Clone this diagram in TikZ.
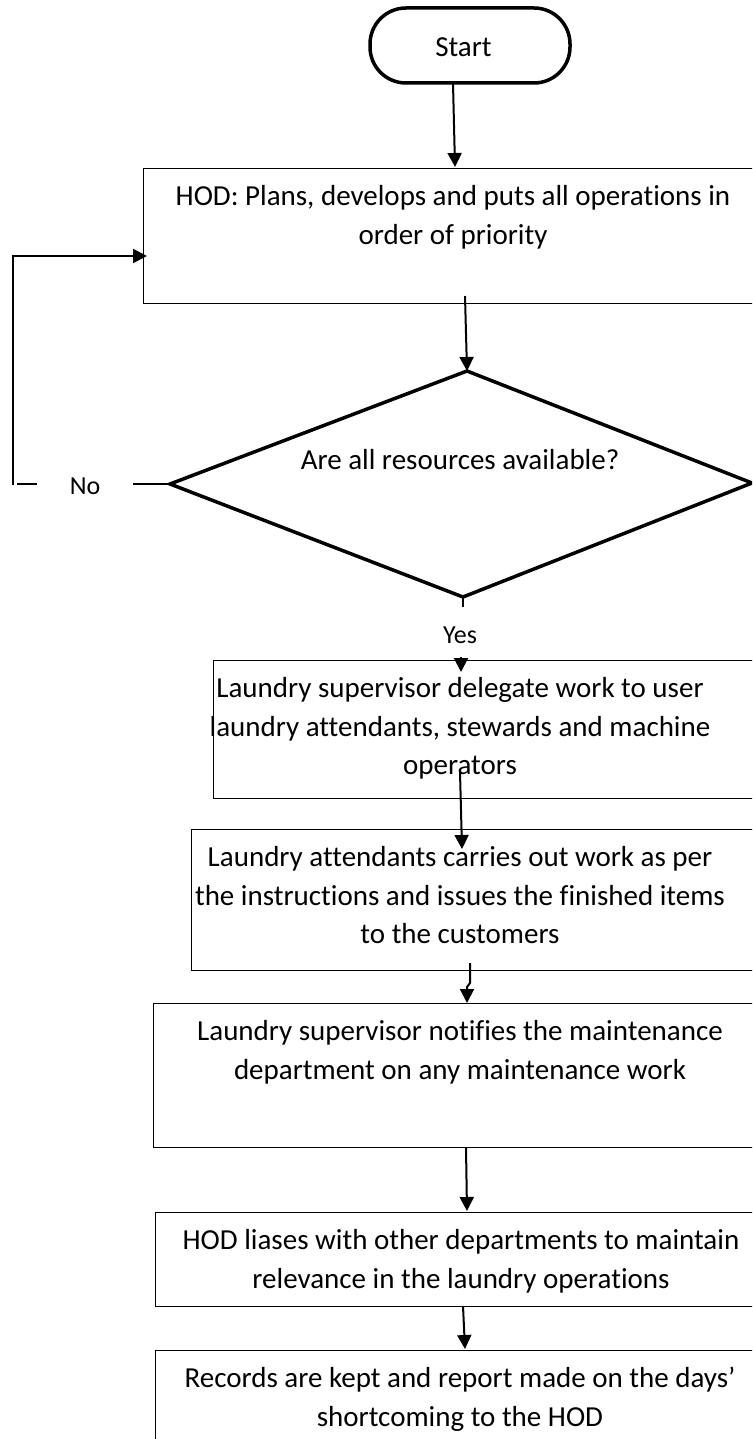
\documentclass[tikz,border=0pt]{standalone}
\usepackage{fontspec}
\setmainfont{Carlito}[Ligatures={NoCommon}]
\usetikzlibrary{arrows.meta}
\newcommand{\fstrut}{\rule{0pt}{30pt}}
\begin{document}
\begin{tikzpicture}[x=1pt,y=-1pt,
  box/.style={draw, line width=1.2pt, rectangle, anchor=north west, inner sep=0},
  term/.style={draw, line width=3.5pt, rectangle, rounded corners=36pt, inner sep=0},
  txt/.style={font=\fontsize{29}{38.5}\selectfont, align=center, anchor=north, inner sep=0},
  lbl/.style={font=\fontsize{26}{30}\selectfont, anchor=base, inner sep=0},
  arr/.style={line width=2pt, -{Triangle[length=14pt,width=14pt]}},
  ln/.style={line width=2pt},
  dia/.style={line width=3.5pt, line join=miter},
]
\useasboundingbox (0,0) rectangle (752,1439);
\clip (0,0) rectangle (752,1439);

% start terminal
\node[term, minimum width=200pt, minimum height=75pt] (start) at (470,45.5) {};
\node[font=\fontsize{29}{35}\selectfont, anchor=base, inner sep=0] (startt) at (463.5,57) {Start};

% boxes
\node[box, minimum width=630pt, minimum height=135pt] (b1) at (143,168) {};
\node[box, minimum width=560pt, minimum height=138pt] (b2) at (213,660) {};
\node[box, minimum width=580pt, minimum height=141pt] (b3) at (191,829) {};
\node[box, minimum width=620pt, minimum height=144pt] (b4) at (153,1003) {};
\node[box, minimum width=620pt, minimum height=94pt] (b5) at (155,1212) {};
\node[box, minimum width=620pt, minimum height=150pt] (b6) at (155,1350) {};

\node[txt] (t1) at (453,175.5) {\fstrut HOD: Plans, develops and puts all operations in\\order of priority};
\node[txt] (t2) at (460,667.5) {\fstrut Laundry supervisor delegate work to user\\laundry attendants, stewards and machine\\operators};
\node[txt] (t3) at (460,836.5) {\fstrut Laundry attendants carries out work as per\\the instructions and issues the finished items\\to the customers};
\node[txt] (t4) at (460,1010.5) {\fstrut Laundry supervisor notifies the maintenance\\department on any maintenance work};
\node[txt] (t5) at (461,1219.5) {\fstrut HOD liases with other departments to maintain\\relevance in the laundry operations};
\node[txt] (t6) at (460,1357.5) {\fstrut Records are kept and report made on the days’\\shortcoming to the HOD};

% decision
\coordinate (dl) at (170,484);
\coordinate (dt) at (467,371);
\coordinate (dr) at (752,483);
\coordinate (db) at (463,597);
\draw[dia] (dl) -- (dt) -- (dr) -- (db) -- cycle;
\node[font=\fontsize{29}{35}\selectfont, anchor=base, inner sep=0] (q) at (460,469) {Are all resources available?};

% connectors
\coordinate (s0) at (453,83);
\coordinate (e0) at (455,167);
\draw[arr] (s0) -- (e0);

\coordinate (s1) at (465,296);
\draw[arr] (s1) -- (dt);

% No branch
\node[lbl] (no) at (85,494) {No};
\coordinate (n1) at (133,484);
\coordinate (n2) at (37,484);
\coordinate (n3) at (17,484);
\coordinate (n4) at (12.5,485);
\coordinate (n5) at (12.5,256);
\coordinate (n6) at (147,256);
\draw[ln] (dl) -- (n1);
\draw[ln] (n2) -- (n3);
\draw[arr] (n4) -- (n5) -- (n6);

% Yes branch
\coordinate (y1) at (463,607);
\draw[ln] (db) -- (y1);
\node[lbl] (yes) at (460,643) {Yes};
\coordinate (y2) at (461,657);
\coordinate (y3) at (461,672);
\draw[arr] (y2) -- (y3);

\coordinate (s2) at (460,772);
\coordinate (e2) at (462,849);
\draw[arr] (s2) -- (e2);

\coordinate (s3) at (470,963);
\coordinate (m3a) at (470,983);
\coordinate (m3b) at (467,987);
\coordinate (e3) at (467,1003);
\draw[arr] (s3) -- (m3a) -- (m3b) -- (e3);

\coordinate (s4) at (466,1148);
\coordinate (e4) at (467,1211);
\draw[arr] (s4) -- (e4);

\coordinate (s5) at (463,1306);
\coordinate (e5) at (465,1349);
\draw[arr] (s5) -- (e5);
\end{tikzpicture}
\end{document}
